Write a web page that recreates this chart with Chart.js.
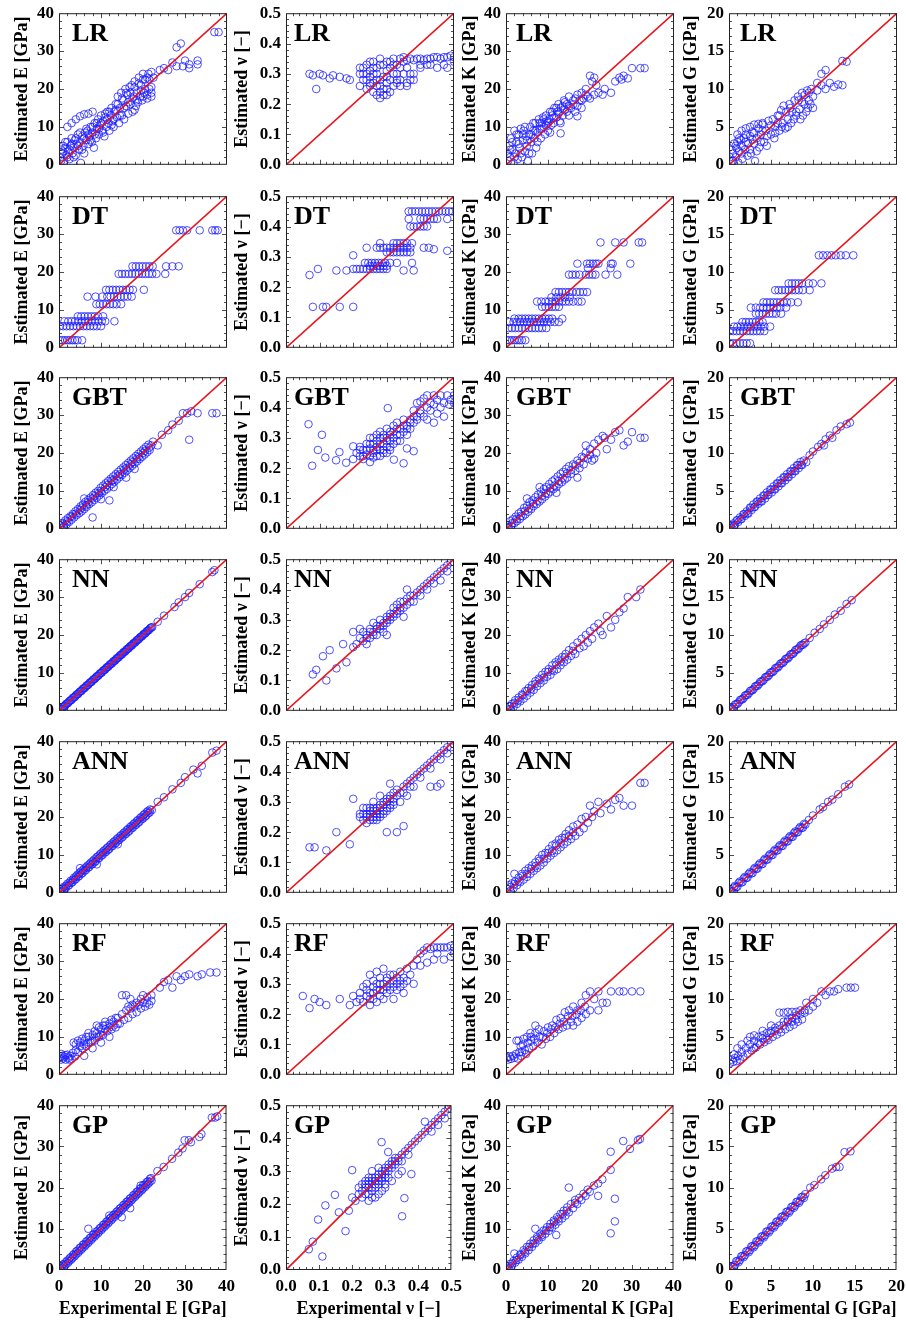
<!DOCTYPE html>
<html>
<head>
<meta charset="utf-8">
<script src="https://cdn.jsdelivr.net/npm/chart.js@4/dist/chart.umd.min.js"></script>
<style>
  body { margin: 0; background: #fff; width: 906px; height: 1325px; position: relative; overflow: hidden; }
  .panel { position: absolute; }
</style>
</head>
<body>
<script>
// ---------------------
// DATA (experimental, estimated)
// ---------------------
const lrE = [[0.3,2],[0.5,4],[0.8,3],[1,5],[1.2,1],[1.5,4.5],[1.8,2.5],[2,6],[2.2,3.5],[2.5,1.5],[2.8,5],[3,7],[3.2,3],[3.5,4.5],[3.8,6.5],[4,2.5],[4.2,5.5],[4.5,8],[4.8,4],[5,6],[5.2,0.5],[5.5,7.5],[5.8,5],[6,3],[6.2,8.5],[6.5,6.5],[6.8,9],[7,5.5],[7.3,7.5],[7.5,10],[7.8,6],[8,8.5],[8.3,4.5],[8.5,11],[8.8,7],[9,9.5],[9.3,12],[9.5,8],[9.8,10.5],[10,13],[10.3,9],[10.5,11.5],[10.8,7.5],[11,12.5],[11.3,10],[11.5,14],[11.8,11],[12,9],[12.3,13],[12.5,15],[12.8,11.5],[13,10],[13.3,14],[13.5,16],[13.8,12.5],[14,18],[14.3,11],[14.5,15],[14.8,19],[15,13],[15.3,17],[15.5,12],[15.8,20],[16,15.5],[16.3,18.5],[16.5,13.5],[16.8,20.5],[17,16],[17.3,21],[17.5,14],[17.8,18],[18,22],[18.3,15.5],[18.5,19],[18.8,16.5],[19,23],[19.3,18],[19.5,21],[19.8,17],[20,24],[20.3,19],[20.5,22.5],[21,18.5],[21.3,24],[21.5,20],[22,19],[22,24.5],[22.5,23],
  [0.5,1],[1,3.5],[1.5,6],[2,2],[2.5,4],[3,5.5],[3.5,2],[4,7],[4.5,5],[5,8.5],[5.5,4],[6,7],[6.5,9.5],[7,8],[7.5,6.5],[8,10],[8.5,8],[9,11],[9.5,9.5],[10,11],[10.5,8.5],[11,13.5],[11.5,12],[12,14],[12.5,10.5],[13,12],[13.5,14.5],[14,16],[14.5,13],[15,17.5],[15.5,15],[16,19],[16.5,16.5],[17,19],[17.5,17.5],[18,20.5],[18.5,17],[19,21.5],[19.5,19.5],[20,22.5],[20.5,20],[21,23],[21.5,22.5],[22,20.5],[20,18],[21,17.5],[22,18],[18,14.5],
  [2,10],[3,11],[4,12],[5,12.8],[6,13.3],[7,13.5],[8,14],
  [24,25],[25,25.5],[26,25],[27,27],[28,26],[28,31],[29,32],[29.5,26],[30,27.5],[31,26.5],[31,25.5],[33,27.5],[33,26.5],[37,35],[38,35]];
const lrV = [[0.07,0.3],[0.08,0.295],[0.09,0.25],[0.1,0.3],[0.11,0.295],[0.13,0.285],[0.14,0.295],[0.16,0.29],[0.18,0.285],[0.19,0.28],
  [0.22,0.32],[0.22,0.26],[0.23,0.3],[0.23,0.28],[0.24,0.33],[0.24,0.25],[0.25,0.31],[0.25,0.27],[0.25,0.29],[0.26,0.34],[0.26,0.24],[0.26,0.32],[0.27,0.28],[0.27,0.3],[0.27,0.23],[0.28,0.26],[0.28,0.33],[0.28,0.35],[0.28,0.22],[0.29,0.29],[0.29,0.25],[0.3,0.31],[0.3,0.27],[0.3,0.23],[0.3,0.34],[0.31,0.28],[0.31,0.32],[0.32,0.26],[0.32,0.35],[0.32,0.3],[0.33,0.33],[0.33,0.28],[0.34,0.35],[0.34,0.26],[0.35,0.3],[0.35,0.34],[0.36,0.32],[0.36,0.27],[0.37,0.28],[0.37,0.35],[0.38,0.3],[0.38,0.345],[0.39,0.35],[0.4,0.33],[0.4,0.35],[0.41,0.345],[0.42,0.35],[0.43,0.33],[0.43,0.35],[0.44,0.355],[0.45,0.32],[0.45,0.355],[0.46,0.35],[0.47,0.355],[0.47,0.33],[0.48,0.355],[0.48,0.32],[0.49,0.36],[0.5,0.355],[0.5,0.34],
  [0.23,0.32],[0.24,0.3],[0.25,0.34],[0.26,0.27],[0.27,0.32],[0.27,0.26],[0.28,0.28],[0.29,0.33],[0.29,0.23],[0.3,0.29],[0.3,0.25],[0.31,0.34],[0.31,0.24],[0.32,0.33],[0.33,0.27],[0.33,0.3],[0.34,0.32],[0.34,0.28],[0.35,0.355],[0.36,0.345],[0.37,0.3],[0.25,0.26],[0.26,0.3],[0.28,0.24],[0.24,0.28],[0.22,0.3],[0.36,0.26],[0.38,0.28],[0.4,0.32],[0.42,0.33]];
const lrK = [[0.3,3],[0.5,1],[0.8,5],[1,2],[1.2,7],[1.5,4],[1.8,0.5],[2,9],[2.2,3],[2.5,6],[2.8,1.5],[3,8],[3.2,4.5],[3.5,9.5],[3.8,2],[4,6.5],[4.2,9],[4.5,3.5],[4.8,7.5],[5,5],[5.2,1],[5.5,8],[5.8,10],[6,6],[6.2,3],[6.5,9],[6.8,7],[7,11],[7.2,4.5],[7.5,8.5],[7.8,12],[8,9.5],[8.3,7],[8.5,11],[8.8,12.5],[9,10],[9.3,8],[9.5,13],[9.8,11.5],[10,9],[10.3,12],[10.5,14],[10.8,10.5],[11,13],[11.3,11],[11.5,15],[12,12.5],[12.3,14],[12.5,16],[12.8,11.5],[13,8.3],[13,15],[13.5,13],[13.8,17],[14,14.5],[14.5,16],[15,13],[15,18],[15.5,15],[16,17],[16.5,14],[17,12.8],[17,18.5],[17.5,17],[18,19],[18,15],[18.5,17.5],[19,20],[19.5,18],[20,23.5],[20,17.5],[21,23],[21,18.5],[21.5,21],[22,19],[23,18.5],[23.5,20],[25,19],[26,22],[27,23],[27.5,22.5],[28,23.5],[30,25.5],[29,22.8],[32,25.5],[33,25.5],[20.5,22],
  [1,4],[1.5,6],[2,2],[2.5,8],[3,5.5],[3.5,3],[4,8],[4.5,10],[5,6.5],[5.5,3],[6,8],[6.5,11],[7,9],[7.5,6],[8,11],[8.5,9.5],[9,12],[9.5,10.5],[10,11],[10.5,8.5],[11,14],[11.5,12.5],[12,15],[12.5,13.5],[13,11],[13.5,15.5],[14,16.5],[14.5,14],[15,15.5],[16,16],[16.5,17.5],[17,15.5],[18,17],[19,18.5]];
const lrG = [[0.1,1],[0.3,2],[0.4,0.5],[0.5,1.5],[0.6,2.8],[0.8,1],[0.9,2.2],[1,3],[1.1,0.3],[1.2,1.8],[1.4,3.3],[1.5,2.5],[1.6,0.8],[1.8,3.5],[1.9,2],[2,4],[2.2,1.2],[2.3,2.8],[2.5,3.8],[2.6,1.5],[2.8,4.3],[3,2.8],[3.1,0.5],[3.3,3.5],[3.5,4.8],[3.6,2.3],[3.8,4],[4,5.3],[4.2,3],[4.4,4.5],[4.5,2.5],[4.7,5.8],[5,4],[5.2,6],[5.4,3.5],[5.5,5],[5.8,6.5],[6,4.5],[6.2,7.2],[6.4,5.5],[6.5,7.8],[6.7,4.8],[7,6],[7.2,8],[7.4,5.5],[7.5,7],[7.8,8.5],[8,6.5],[8.2,9],[8.4,7.3],[8.5,6],[8.7,9.5],[9,8],[9.2,7],[9.3,9.8],[9.5,8.5],[9.8,10],[10,7.5],
  [0.5,0.5],[0.8,2.5],[1.2,3.5],[1.5,1.5],[2,3],[2.5,2],[2.8,3.3],[3,4.2],[3.3,1.8],[3.8,3],[4,4.5],[4.5,3.8],[5,5.2],[5.5,4.2],[5.8,5.5],[6,6.5],[6.3,5],[6.8,7],[7,5],[7.3,7.5],[7.7,6],[8,7],[8.3,8.5],[8.7,8.3],[9,9.2],[9.5,9.5],[9.7,8],[10,9],[8.8,6.5],[9.4,7.5],
  [1,4],[1.5,4.5],[2,4.8],[2.5,5],[3,5.3],[3.5,5.4],[4,5.5],
  [10.5,10.8],[11,10.5],[11.5,10],[12,10.8],[12.5,10.3],[13,10.6],[13.5,10.5],[11,12],[11.5,12.5],[13.5,13.7],[14,13.6],[10.5,9.8]];

const dtE = [[0.2,2],[0.8,2],[1.4,2],[2,2],[2.6,2],[3.2,2],[3.8,2],[4.4,2],[5.5,2],
  [0.2,5.7],[1,5.7],[1.8,5.7],[2.6,5.7],[3.4,5.7],[4.2,5.7],[5,5.7],[5.8,5.7],[6.6,5.7],[7.4,5.7],[8.2,5.7],[9,5.7],[10,5.7],
  [1.3,7],[2.2,7],[3,7],[3.8,7],[4.6,7],[5.4,7],[6.2,7],[7,7],[7.8,7],[8.6,7],[9.4,7],[10.2,7],[11,7],[13.2,7],
  [4.5,8.3],[5.3,8.3],[6.1,8.3],[6.9,8.3],[7.7,8.3],[8.5,8.3],[9.3,8.3],[10.5,8.3],
  [8.9,11.5],[9.7,11.5],[10.5,11.5],[11.3,11.5],[12.1,11.5],[12.9,11.5],[13.7,11.5],[14.8,11.5],
  [6.8,13.5],[8.7,13.5],[10.3,13.5],[11.5,13.5],[12.3,13.5],[13.1,13.5],[13.9,13.5],[14.7,13.5],[15.5,13.5],[16.3,13.5],[17.3,13.5],
  [11.2,15.3],[12,15.3],[12.8,15.3],[13.6,15.3],[14.4,15.3],[15.2,15.3],[16,15.3],[16.8,15.3],[17.6,15.3],[20.2,15.3],
  [14.2,19.5],[15,19.5],[15.8,19.5],[16.6,19.5],[17.4,19.5],[18.2,19.5],[19,19.5],[19.8,19.5],[20.6,19.5],[21.4,19.5],[22.2,19.5],[23.2,19.5],[25.3,19.5],
  [17.5,21.5],[18.3,21.5],[19.1,21.5],[19.9,21.5],[20.7,21.5],[21.5,21.5],[22.3,21.5],[25.5,21.5],[27,21.5],[28.5,21.5],
  [27.9,31],[28.7,31],[29.5,31],[30.5,31],[33.5,31],[36.5,31],[37.2,31],[37.8,31]];
const dtV = [[0.365,0.45],[0.375,0.45],[0.385,0.45],[0.395,0.45],[0.405,0.45],[0.415,0.45],[0.425,0.45],[0.435,0.45],[0.445,0.45],[0.455,0.45],[0.465,0.45],[0.475,0.45],[0.485,0.45],[0.495,0.45],
  [0.365,0.425],[0.4,0.425],[0.41,0.425],[0.42,0.425],[0.43,0.425],[0.44,0.425],[0.45,0.425],[0.48,0.425],
  [0.37,0.4],[0.38,0.4],[0.39,0.4],[0.4,0.4],[0.41,0.4],[0.42,0.4],
  [0.28,0.345],[0.32,0.345],[0.33,0.345],[0.34,0.345],[0.35,0.345],[0.36,0.345],[0.375,0.345],
  [0.24,0.33],[0.27,0.33],[0.28,0.33],[0.29,0.33],[0.3,0.33],[0.31,0.33],[0.32,0.33],[0.33,0.33],[0.34,0.33],[0.35,0.33],[0.36,0.33],[0.37,0.33],[0.41,0.33],[0.425,0.33],[0.44,0.325],[0.48,0.32],
  [0.3,0.315],[0.31,0.315],[0.32,0.315],[0.33,0.315],[0.34,0.315],[0.35,0.315],[0.36,0.315],[0.37,0.315],
  [0.2,0.305],
  [0.235,0.28],[0.245,0.28],[0.255,0.28],[0.265,0.28],[0.275,0.28],[0.285,0.28],[0.295,0.28],[0.31,0.28],[0.33,0.28],[0.375,0.28],
  [0.25,0.27],[0.26,0.27],[0.27,0.27],[0.28,0.27],[0.29,0.27],[0.3,0.27],
  [0.095,0.26],[0.15,0.255],[0.18,0.255],[0.2,0.26],[0.21,0.26],[0.22,0.26],[0.23,0.26],[0.24,0.26],[0.25,0.26],[0.26,0.26],[0.27,0.26],[0.28,0.26],[0.29,0.26],[0.3,0.26],[0.35,0.255],[0.38,0.255],
  [0.07,0.24],
  [0.08,0.135],[0.11,0.135],[0.12,0.135],[0.16,0.135],[0.2,0.135]];
const dtK = [[0.2,2],[0.8,2],[1.4,2],[2,2],[2.6,2],[3.2,2],[3.8,2],[4.6,2],
  [0.6,5.2],[1.4,5.2],[2.2,5.2],[3,5.2],[3.8,5.2],[4.6,5.2],[5.4,5.2],[6.2,5.2],[7,5.2],[7.8,5.2],[8.6,5.2],[9.6,5.2],
  [0.8,6.8],[1.8,6.8],[2.6,6.8],[3.4,6.8],[4.2,6.8],[5,6.8],[5.8,6.8],[6.6,6.8],[7.4,6.8],[8.2,6.8],[9,6.8],[9.8,6.8],[10.6,6.8],[11.6,6.8],[12.6,6.8],
  [2,7.7],[3,7.7],[3.8,7.7],[4.6,7.7],[5.4,7.7],[6.2,7.7],[7,7.7],[7.8,7.7],[8.6,7.7],[9.4,7.7],[10.2,7.7],[11,7.7],[13.4,7.7],
  [8.6,10.8],[9.4,10.8],[10.2,10.8],[11,10.8],[11.8,10.8],[12.6,10.8],
  [7.4,12.2],[8.4,12.2],[9.4,12.2],[10.2,12.2],[11,12.2],[11.8,12.2],[12.6,12.2],[13.4,12.2],[14.2,12.2],[15,12.2],[16,12.2],[17.2,12.2],[18,12.2],
  [10.8,13.3],[12,13.3],[13,13.3],[14,13.3],[15.2,13.3],
  [11.8,14.7],[12.6,14.7],[13.4,14.7],[14.2,14.7],[15,14.7],[15.8,14.7],[16.8,14.7],[17.6,14.7],[18.4,14.7],[19.3,14.7],
  [15,19.3],[15.8,19.3],[16.6,19.3],[17.5,19.3],[19,19.3],[19.8,19.3],[20.6,19.3],[21.3,19.3],[23.7,19.3],[26.5,19.3],
  [19.5,21],[24.9,21],
  [17,22.2],[19.3,22.2],[20,22.2],[20.7,22.2],[21.4,22.2],[22,22.2],[25,22.2],[25.4,22.2],[29.6,22.2],
  [22.5,27.8],[26,27.8],[28,27.8],[31.6,27.8],[32.4,27.8]];
const dtG = [[0.1,0.6],[0.5,0.6],[0.9,0.6],[1.3,0.6],[1.7,0.6],[2.1,0.6],[2.5,0.6],
  [0.1,2.2],[0.5,2.2],[0.9,2.2],[1.3,2.2],[1.7,2.2],[2.1,2.2],[2.5,2.2],[2.9,2.2],[3.3,2.2],[3.7,2.2],[4.2,2.2],
  [0.6,2.8],[1,2.8],[1.4,2.8],[1.8,2.8],[2.2,2.8],[2.6,2.8],[3,2.8],[3.4,2.8],[3.8,2.8],[4.2,2.8],[4.9,2.8],
  [1.6,3.4],[2,3.4],[2.4,3.4],[2.8,3.4],[3.2,3.4],[3.6,3.4],[4,3.4],
  [3.2,4.5],[3.6,4.5],[4,4.5],[4.4,4.5],[4.8,4.5],[5.2,4.5],[5.6,4.5],[6.2,4.5],
  [2.6,5.3],[3.2,5.3],[3.7,5.3],[4.1,5.3],[4.5,5.3],[4.9,5.3],[5.3,5.3],[5.7,5.3],[6.1,5.3],[6.8,5.3],
  [4.1,6],[4.5,6],[4.9,6],[5.3,6],[5.7,6],[6.1,6],[6.5,6],[6.9,6],[7.4,6],[8.2,6],
  [5.5,7.6],[5.9,7.6],[6.3,7.6],[6.7,7.6],[7.1,7.6],[7.5,7.6],[7.9,7.6],[8.3,7.6],[8.8,7.6],[9.6,7.6],
  [7.1,8.5],[7.5,8.5],[7.9,8.5],[8.3,8.5],[8.7,8.5],[9.5,8.5],[10,8.5],[11,8.5],
  [10.7,12.2],[11.2,12.2],[11.7,12.2],[12.2,12.2],[12.7,12.2],[13.3,12.2],[13.9,12.2],[14.8,12.2]];

const gbtE = [[0.3,0.8],[0.6,0.2],[0.9,1.5],[1.2,0.8],[1.5,2.2],[1.8,1.2],[2.1,2.8],[2.4,1.8],[2.7,3.3],[3,2.4],[3.3,3.9],[3.6,3],[3.9,4.6],[4.2,3.6],[4.5,5.2],[4.8,4.1],[5.1,5.9],[5.4,4.6],[5.7,6.4],[6,5.2],[6.3,7.1],[6.6,5.8],[6.9,7.6],[7.2,6.5],[7.5,8.2],[7.8,7],[8,3],[8.1,8.9],[8.4,7.6],[8.7,9.5],[9,8.2],[9.3,10],[9.6,8.8],[9.9,10.8],[10.2,9.4],[10.5,11.4],[10.8,10],[11.1,12],[11.4,10.5],[11.7,12.6],[12,11.2],[12,7.5],[12.3,13.2],[12.6,11.8],[12.9,13.8],[13.2,12.4],[13.5,14.4],[13.8,13],[14.1,15],[14.4,13.6],[14.7,15.6],[15,14.2],[15.3,16.2],[15.6,14.8],[15.9,16.8],[16.2,15.4],[16.5,17.4],[16.8,16],[17.1,18],[17.4,16.6],[17.7,18.6],[18,17.2],[18.3,19.2],[18.6,17.8],[18.9,19.8],[19.2,18.4],[19.5,20.4],[19.8,19],[20.1,21],[20.4,19.6],[20.7,21.6],[21,20.2],[21.3,22.2],[21.6,20.8],[22,22],[22.4,23],[23.5,22],
  [0.5,1.4],[1,0.4],[2,2],[3,3.2],[4,4],[5,5],[5.5,5.6],[6.5,6.2],[7,7],[8,8],[8.5,8.6],[9.5,9.4],[10,10],[11,11],[11.5,11.6],[12.5,12.6],[13,13],[14,14],[14.5,14.4],[15.5,15.6],[16,16],[17,17],[17.5,17.6],[18.5,18.4],[19,19],[20,20],[20.5,20.6],[21.5,21.4],[13,11],[16,13.5],[18,15.8],[10,7.8],[6,8],
  [24.5,24.8],[26,26],[27,27.5],[28.5,28.5],[29.5,30.5],[30.5,30.5],[31,23.5],[33,30.5],[36.5,30.5],[37.5,30.5],[31.5,31]];
const gbtV = [[0.067,0.345],[0.078,0.208],[0.107,0.31],[0.095,0.26],[0.117,0.235],[0.149,0.226],[0.159,0.253],[0.179,0.218],[0.2,0.23],[0.2,0.272],[0.303,0.398],[0.321,0.228],[0.35,0.216],[0.36,0.265],[0.38,0.256],
  [0.21,0.25],[0.22,0.24],[0.22,0.27],[0.23,0.23],[0.23,0.26],[0.24,0.28],[0.24,0.245],[0.25,0.22],[0.25,0.265],[0.25,0.3],[0.26,0.25],[0.26,0.28],[0.26,0.235],[0.27,0.27],[0.27,0.29],[0.27,0.24],[0.28,0.26],[0.28,0.3],[0.28,0.32],[0.29,0.25],[0.29,0.28],[0.29,0.31],[0.3,0.27],[0.3,0.3],[0.3,0.33],[0.31,0.26],[0.31,0.29],[0.31,0.32],[0.32,0.3],[0.32,0.34],[0.32,0.28],[0.33,0.31],[0.33,0.35],[0.34,0.33],[0.34,0.29],[0.35,0.32],[0.35,0.36],[0.36,0.34],[0.36,0.31],[0.37,0.36],[0.37,0.33],[0.38,0.35],[0.38,0.39],[0.39,0.37],[0.4,0.39],[0.41,0.37],[0.42,0.36],[0.43,0.39],[0.45,0.38],[0.44,0.35],[0.46,0.4],[0.47,0.37],
  [0.24,0.26],[0.25,0.24],[0.26,0.26],[0.26,0.3],[0.27,0.26],[0.27,0.31],[0.28,0.28],[0.28,0.24],[0.29,0.3],[0.29,0.26],[0.3,0.29],[0.3,0.25],[0.31,0.31],[0.31,0.27],[0.32,0.32],[0.33,0.29],[0.33,0.33],[0.34,0.31],[0.35,0.34],[0.36,0.33],[0.37,0.35],[0.38,0.37],[0.39,0.36],[0.4,0.38],[0.42,0.4],[0.44,0.41],[0.23,0.24],[0.22,0.26],[0.25,0.28],
  [0.39,0.415],[0.4,0.42],[0.41,0.43],[0.42,0.44],[0.43,0.415],[0.44,0.44],[0.45,0.425],[0.46,0.44],[0.47,0.415],[0.48,0.44],[0.49,0.425],[0.5,0.44],[0.5,0.415],[0.485,0.41]];
const gbtK = [[0.3,1],[0.7,0.3],[1,2],[1.3,0.8],[1.6,2.5],[2,1.5],[2.3,3.2],[2.6,2],[3,4],[3.3,2.6],[3.6,4.5],[4,3.3],[4.3,5.5],[4.6,3.8],[5,6],[5.3,4.5],[5.6,7],[6,5.2],[6.3,7.5],[6.6,6],[7,8.3],[7.3,6.5],[7.6,9],[8,7.2],[8.3,9.8],[8.6,7.8],[9,10.5],[9.3,8.5],[9.6,11],[10,9.2],[10.3,11.8],[10.6,9.8],[11,12.5],[11.3,10.5],[11.6,13],[12,11],[12.3,13.8],[12.6,11.8],[13,14.5],[13.3,12.3],[13.6,15],[14,13],[14.3,15.8],[14.6,13.5],[15,16.5],[15.5,14.5],[16,17],[16.5,15.3],[17,18],[17.5,16],[18,19],[18.5,17],[19,20],[19.5,18.5],[20,21],[20.5,18],[21,22.5],[21.5,20],[22,23.5],[23,24.5],[23.5,24],[24,21],[25,23.5],[26,25.5],[27,26],[28,22],[29,23],[30,25.5],[32,24],[33,24],
  [0.5,0.5],[1.5,1.5],[2.5,2.6],[3.5,3.4],[4.5,4.7],[5.5,5.4],[6.5,6.6],[7.5,7.4],[8.5,8.7],[9.5,9.4],[10.5,10.7],[11.5,11.4],[12.5,12.6],[13.5,13.4],[14.5,14.6],[15.5,15.5],[16.5,16.7],[17.5,17.4],[18.5,18.7],[20,19.5],[5,8],[8,11],[12,9.5],[17,13.5],[21,18.5],[19,22]];
const gbtG = [[0.1,0.3],[0.3,0.1],[0.5,0.7],[0.7,0.5],[0.9,1.1],[1.1,0.9],[1.3,1.5],[1.5,1.3],[1.7,1.9],[1.9,1.7],[2.1,2.3],[2.3,2],[2.5,2.8],[2.7,2.5],[2.9,3.2],[3.1,2.9],[3.3,3.6],[3.5,3.3],[3.7,4],[3.9,3.6],[4.1,4.4],[4.3,4],[4.5,4.8],[4.7,4.5],[4.9,5.2],[5.1,4.8],[5.3,5.6],[5.5,5.2],[5.7,6],[5.9,5.6],[6.1,6.4],[6.3,6],[6.5,6.8],[6.7,6.4],[6.9,7.2],[7.1,6.8],[7.3,7.6],[7.5,7.2],[7.7,8],[7.9,7.6],[8.1,8.4],[8.3,8],[8.5,8.8],[8.7,8.4],[8.9,9],[9.2,8.8],
  [0.2,0.35],[0.6,0.45],[1,1.15],[1.4,1.25],[1.8,1.95],[2.2,2.05],[2.6,2.75],[3,2.85],[3.4,3.55],[3.8,3.65],[4.2,4.35],[4.6,4.45],[5,5.15],[5.4,5.25],[5.8,5.95],[6.2,6.05],[6.6,6.75],[7,6.85],[7.4,7.55],[7.8,7.65],[8.2,8.35],[8.6,8.45],
  [9.6,9.7],[10,10.2],[10.6,10.8],[11,11.2],[11.5,11.8],[12,12.3],[12.3,12],[12.8,13],[13.3,13.5],[14,13.8],[14.4,14],[11.3,11]];

const nnE = [[0.2,0.2],[0.6,0.5],[1,1.1],[1.4,1.3],[1.8,1.9],[2.2,2.1],[2.6,2.7],[3,2.9],[3.4,3.5],[3.8,3.7],[4.2,4.3],[4.6,4.5],[5,5.1],[5.4,5.3],[5.8,5.9],[6.2,6.1],[6.6,6.7],[7,6.9],[7.4,7.5],[7.8,7.7],[8.2,8.3],[8.6,8.5],[9,9.1],[9.4,9.3],[9.8,9.9],[10.2,10.1],[10.6,10.7],[11,10.9],[11.4,11.5],[11.8,11.7],[12.2,12.3],[12.6,12.5],[13,13.1],[13.4,13.3],[13.8,13.9],[14.2,14.1],[14.6,14.7],[15,14.9],[15.4,15.5],[15.8,15.7],[16.2,16.3],[16.6,16.5],[17,17.1],[17.4,17.3],[17.8,17.9],[18.2,18.1],[18.6,18.7],[19,18.9],[19.4,19.5],[19.8,19.7],[20.2,20.3],[20.6,20.5],[21,21.1],[21.4,21.3],[21.8,21.9],[22.2,22.1],
  [0.4,0.45],[0.8,0.85],[1.2,1.15],[1.6,1.65],[2,1.95],[2.4,2.45],[2.8,2.75],[3.2,3.25],[3.6,3.55],[4,4.05],[4.4,4.35],[4.8,4.85],[5.2,5.15],[5.6,5.65],[6,5.95],[6.4,6.45],[6.8,6.75],[7.2,7.25],[7.6,7.55],[8,8.05],[8.4,8.35],[8.8,8.85],[9.2,9.15],[9.6,9.65],[10,9.95],[10.4,10.45],[10.8,10.75],[11.2,11.25],[11.6,11.55],[12,12.05],[12.4,12.35],[12.8,12.85],[13.2,13.15],[13.6,13.65],[14,13.95],[14.4,14.45],[14.8,14.75],[15.2,15.25],[15.6,15.55],[16,16.05],[16.4,16.35],[16.8,16.85],[17.2,17.15],[17.6,17.65],[18,17.95],[18.4,18.45],[18.8,18.75],[19.2,19.25],[19.6,19.55],[20,20.05],[20.4,20.35],[20.8,20.85],[21.2,21.15],[21.6,21.65],[22,21.95],
  [23.5,23.5],[25,25.1],[27.5,27.4],[28.5,28.6],[30,30],[31,31.1],[33.5,33.4],[36.5,36.6],[37,37.1]];
const nnV = [[0.08,0.12],[0.09,0.135],[0.12,0.1],[0.11,0.18],[0.13,0.2],[0.15,0.14],[0.17,0.22],[0.18,0.16],[0.2,0.21],[0.2,0.26],
  [0.21,0.22],[0.22,0.24],[0.23,0.23],[0.23,0.26],[0.24,0.25],[0.24,0.22],[0.25,0.27],[0.25,0.24],[0.26,0.26],[0.26,0.29],[0.27,0.25],[0.27,0.28],[0.28,0.27],[0.28,0.3],[0.29,0.28],[0.29,0.26],[0.3,0.31],[0.3,0.29],[0.31,0.3],[0.31,0.32],[0.32,0.31],[0.32,0.34],[0.33,0.32],[0.33,0.35],[0.34,0.33],[0.34,0.36],[0.35,0.34],[0.35,0.36],[0.36,0.35],[0.36,0.37],[0.37,0.36],[0.38,0.38],[0.38,0.36],[0.39,0.39],[0.4,0.4],[0.4,0.38],[0.41,0.41],[0.42,0.42],[0.42,0.4],[0.43,0.43],[0.44,0.44],[0.44,0.42],[0.45,0.45],[0.46,0.46],[0.46,0.43],[0.47,0.47],[0.48,0.48],[0.48,0.46],[0.49,0.49],[0.5,0.49],[0.35,0.31],[0.36,0.4],[0.3,0.25],[0.22,0.27],
  [0.24,0.24],[0.25,0.26],[0.26,0.25],[0.27,0.27],[0.28,0.28],[0.29,0.29],[0.3,0.3],[0.31,0.31],[0.32,0.32],[0.33,0.33],[0.34,0.34],[0.37,0.38]];
const nnK = [[0.3,0.5],[0.7,1.2],[1,0.4],[1.4,1.8],[1.8,1],[2.2,2.8],[2.6,1.8],[3,3.5],[3.4,2.5],[3.8,4.3],[4.2,3.2],[4.6,5.2],[5,4],[5.4,6],[5.8,4.8],[6.2,6.8],[6.6,5.5],[7,7.8],[7.4,6.5],[7.8,8.5],[8.2,7.3],[8.6,9.5],[9,8],[9.4,10.3],[9.8,9],[10.2,11],[10.6,9.5],[11,12],[11.4,10.5],[11.8,12.8],[12.2,11],[12.6,13.5],[13,12],[13.4,14.2],[13.8,12.8],[14.2,15],[14.6,13.5],[15,16],[15.5,14.5],[16,17],[16.5,15],[17,18],[17.5,16.5],[18,19],[18.5,17],[19,20],[19.5,18],[20,21],[20.5,19],[21,22],[22,23],[22.5,21],[23,20],[24,25],[25,22],[26,24],[27,26],[28,27],[29,30],[31,30],[32,32],
  [1,1.2],[2,2.1],[3,2.8],[4,4.1],[5,5.2],[6,5.8],[7,7.1],[8,8.2],[9,8.8],[10,10.2],[11,10.8],[12,12.2],[13,13],[14,14.1],[16,15.8]];
const nnG = [[0.1,0.2],[0.4,0.3],[0.7,0.8],[1,0.9],[1.3,1.4],[1.6,1.5],[1.9,2],[2.2,2.1],[2.5,2.6],[2.8,2.7],[3.1,3.2],[3.4,3.3],[3.7,3.8],[4,3.9],[4.3,4.4],[4.6,4.5],[4.9,5],[5.2,5.1],[5.5,5.6],[5.8,5.7],[6.1,6.2],[6.4,6.3],[6.7,6.8],[7,6.9],[7.3,7.4],[7.6,7.5],[7.9,8],[8.2,8.1],[8.5,8.6],[8.8,8.7],[9.1,9],
  [0.25,0.3],[0.55,0.5],[0.85,0.9],[1.15,1.1],[1.45,1.5],[1.75,1.7],[2.05,2.1],[2.35,2.3],[2.65,2.7],[2.95,2.9],[3.25,3.3],[3.55,3.5],[3.85,3.9],[4.15,4.1],[4.45,4.5],[4.75,4.7],[5.05,5.1],[5.35,5.3],[5.65,5.7],[5.95,5.9],[6.25,6.3],[6.55,6.5],[6.85,6.9],[7.15,7.1],[7.45,7.5],[7.75,7.7],[8.05,8.1],[8.35,8.3],[8.65,8.7],[8.95,8.9],
  [9.6,9.6],[10.2,10.3],[10.8,10.8],[11.3,11.4],[12,12],[12.6,12.7],[13.3,13.2],[14,14.1],[14.6,14.6]];

const annE = [[0.2,0.4],[0.5,0.2],[0.9,1.2],[1.3,1],[1.7,1.9],[2.1,1.8],[2.5,2.7],[2.9,2.6],[3.3,3.5],[3.7,3.4],[4.1,4.4],[4.5,4.2],[4.9,5.2],[5.3,5],[5.7,6],[6.1,5.8],[6.5,6.8],[6.9,6.6],[7.3,7.6],[7.7,7.4],[8.1,8.4],[8.5,8.1],[8.9,9.3],[9.3,9],[9.7,10.1],[10.1,9.8],[10.5,10.9],[10.9,10.6],[11.3,11.7],[11.7,11.3],[12.1,12.5],[12.5,12.2],[12.9,13.3],[13.3,13],[13.7,14.1],[14.1,13.8],[14.5,14.9],[14.9,14.5],[15.3,15.7],[15.7,15.4],[16.1,16.5],[16.5,16.1],[16.9,17.3],[17.3,17],[17.7,18.1],[18.1,17.8],[18.5,18.9],[18.9,18.5],[19.3,19.7],[19.7,19.4],[20.1,20.5],[20.5,20.1],[20.9,21.3],[21.3,21],[21.7,22],[22.1,21.8],[9,7.5],[14,12.8],[5,6.5],
  [0.4,0.9],[0.8,0.4],[1.2,1.6],[1.6,1.2],[2,2.4],[2.4,2],[2.8,3.2],[3.2,2.8],[3.6,4],[4,3.6],[4.4,4.8],[4.8,4.4],[5.2,5.6],[5.6,5.2],[6,6.4],[6.4,6],[6.8,7.2],[7.2,6.8],[7.6,8],[8,7.6],[8.4,8.8],[8.8,8.4],[9.2,9.6],[9.6,9.2],[10,10.4],[10.4,10],[10.8,11.2],[11.2,10.8],[11.6,12],[12,11.6],[12.4,12.8],[12.8,12.4],[13.2,13.6],[13.6,13.2],[14,14.4],[14.4,14],[14.8,15.2],[15.2,14.8],[15.6,16],[16,15.6],[16.4,16.8],[16.8,16.4],[17.2,17.6],[17.6,17.2],[18,18.4],[18.4,18],[18.8,19.2],[19.2,18.8],[19.6,20],[20,19.6],[20.4,20.8],[20.8,20.4],[21.2,21.6],[21.6,21.2],
  [23.5,24],[25,25.2],[27,27.3],[29,29],[30,30.5],[32,32.5],[34,33.5],[36.5,37],[37.5,37.5],[33,31.5]];
const annV = [[0.07,0.15],[0.085,0.15],[0.12,0.14],[0.15,0.2],[0.19,0.16],[0.2,0.31],[0.22,0.25],[0.3,0.2],[0.33,0.2],[0.35,0.22],[0.32,0.29],[0.43,0.35],[0.45,0.35],[0.46,0.36],[0.38,0.35],[0.28,0.32],[0.31,0.36],
  [0.22,0.26],[0.23,0.24],[0.23,0.28],[0.24,0.26],[0.24,0.23],[0.25,0.25],[0.25,0.28],[0.26,0.24],[0.26,0.27],[0.26,0.3],[0.27,0.25],[0.27,0.28],[0.28,0.26],[0.28,0.29],[0.29,0.27],[0.29,0.3],[0.3,0.28],[0.3,0.31],[0.31,0.29],[0.31,0.32],[0.32,0.31],[0.32,0.33],[0.33,0.32],[0.33,0.34],[0.34,0.33],[0.35,0.35],[0.35,0.33],[0.36,0.36],[0.37,0.37],[0.37,0.35],[0.38,0.38],[0.39,0.39],[0.4,0.4],[0.4,0.38],[0.41,0.41],[0.42,0.42],[0.43,0.43],[0.43,0.41],[0.44,0.44],[0.45,0.45],[0.46,0.46],[0.46,0.44],[0.47,0.47],[0.48,0.48],[0.49,0.48],[0.5,0.49],[0.48,0.46],[0.34,0.3],[0.36,0.32],
  [0.23,0.26],[0.24,0.25],[0.24,0.28],[0.25,0.26],[0.25,0.24],[0.26,0.25],[0.26,0.28],[0.27,0.27],[0.27,0.24],[0.28,0.25],[0.28,0.28],[0.29,0.26],[0.29,0.29],[0.3,0.27],[0.3,0.3],[0.31,0.28],[0.31,0.31],[0.32,0.3],[0.25,0.27],[0.27,0.26]];
const annK = [[0.3,1],[0.7,2],[1,0.5],[1.4,2.5],[1.8,1.2],[2,5],[2.2,3],[2.6,2],[3,4],[3.4,2.8],[3.8,5],[4.2,3.5],[4.6,5.8],[5,4.2],[5.4,6.5],[5.8,5],[6.2,7.2],[6.6,5.8],[7,8],[7.4,6.5],[7.8,9],[8.2,7.2],[8.6,10],[9,8],[9.4,10.5],[9.8,9],[10.2,11.5],[10.6,9.8],[11,12.5],[11.4,10.5],[11.8,13],[12.2,11.2],[12.6,14],[13,12],[13.4,14.5],[13.8,12.8],[14.2,15.5],[14.6,13.5],[15,16.5],[15.5,14.2],[16,17.5],[16.5,15],[17,18],[17.5,16],[18,19.5],[18.5,17],[19,20],[19.5,18.5],[20,23],[20.5,20],[21,21.5],[22,24],[22.5,21],[24,23.5],[25,22],[26,24.5],[27,25],[28,23],[30,23],[32,29],[33,29],
  [1,1.5],[2,2.3],[3,3],[4,4.5],[5,5],[6,6.3],[7,7],[8,8.5],[9,9],[10,10.5],[11,11],[12,12.5],[13,13.2],[14,14.5],[15,15],[16,16]];
const annG = [[0.1,0.3],[0.4,0.2],[0.7,0.9],[1,0.8],[1.3,1.5],[1.6,1.4],[1.9,2.1],[2.2,2],[2.5,2.7],[2.8,2.6],[3.1,3.3],[3.4,3.2],[3.7,3.9],[4,3.8],[4.3,4.5],[4.6,4.4],[4.9,5.1],[5.2,5],[5.5,5.7],[5.8,5.6],[6.1,6.3],[6.4,6.2],[6.7,6.9],[7,6.8],[7.3,7.5],[7.6,7.4],[7.9,8.1],[8.2,8],[8.5,8.7],[8.8,8.6],[9.1,9],
  [0.25,0.15],[0.55,0.7],[0.85,0.75],[1.15,1.3],[1.45,1.35],[1.75,1.9],[2.05,1.95],[2.35,2.5],[2.65,2.55],[2.95,3.1],[3.25,3.15],[3.55,3.7],[3.85,3.75],[4.15,4.3],[4.45,4.35],[4.75,4.9],[5.05,4.95],[5.35,5.5],[5.65,5.55],[5.95,6.1],[6.25,6.15],[6.55,6.7],[6.85,6.75],[7.15,7.3],[7.45,7.35],[7.75,7.9],[8.05,7.95],[8.35,8.5],[8.65,8.55],[8.95,9.1],
  [9.5,9.6],[10,10.2],[10.8,11],[11.2,11.3],[11.8,12],[12.3,12.3],[13,13],[13.8,14],[14.3,14.3]];

const rfE = [[0.2,4.5],[0.5,4],[0.8,5],[1,4.3],[1.3,4.8],[1.6,4],[2,5.3],[2.3,4.5],[2.7,5],[3,4.2],[3.3,5.8],
  [3.5,8.5],[4,8],[4.5,6],[5,8.5],[5.5,7],[6,9],[6.5,7.5],[7,10],[7.5,8.5],[8,10.5],[8.5,9],[9,11],[9.5,10],[10,12],[10.5,10.5],[11,13],[11.5,11.5],[12,13.5],[12.5,12],[13,14],[13.5,12.5],[14,15],[14.5,13.5],[15,21],[15,16],[15.5,14.5],[16,21],[16,17],[16.5,15],[17,20],[17,17.5],[17.5,16],[18,18],[18.5,16.5],[19,18.5],[19.5,17.5],[20,21],[20,19],[20.5,18],[21,19],[21.5,18.5],[22,21],[22,19.5],[6,5],[8,7],[10,8.5],[12,10],[7,11],[9,13],[11,14],
  [4,6.5],[5,7.5],[6,8],[7,8.5],[8,9],[9,10],[10,10.5],[11,12],[12,12.5],[13,13],[14,13.5],[4.5,9],[5.5,9.5],[6.5,10],[8.5,11.5],[9.5,12.5],[10.5,13],[12.5,14.5],[13.5,15],[16.5,18],[17.5,18.5],[18.5,19],[19.5,20],[21,20.5],[0.5,5.5],[1.5,5.2],[2.5,4],[3.8,4.8],
  [24,23],[25,24.5],[26,25],[27,23],[28,26],[30,26],[31,26.5],[33,26],[34,26.5],[36,27],[37.5,27],[29,25]];
const rfV = [[0.05,0.26],[0.07,0.22],[0.085,0.25],[0.1,0.24],[0.12,0.23],[0.16,0.25],[0.19,0.23],[0.2,0.26],
  [0.21,0.24],[0.22,0.27],[0.22,0.25],[0.23,0.29],[0.23,0.24],[0.24,0.26],[0.24,0.3],[0.25,0.23],[0.25,0.27],[0.25,0.33],[0.26,0.25],[0.26,0.29],[0.26,0.31],[0.27,0.24],[0.27,0.28],[0.27,0.34],[0.28,0.26],[0.28,0.3],[0.28,0.32],[0.29,0.28],[0.29,0.25],[0.29,0.35],[0.3,0.29],[0.3,0.31],[0.3,0.27],[0.31,0.3],[0.31,0.33],[0.32,0.29],[0.32,0.31],[0.32,0.25],[0.33,0.32],[0.33,0.28],[0.34,0.31],[0.34,0.34],[0.35,0.32],[0.35,0.27],[0.36,0.31],[0.36,0.35],[0.37,0.33],[0.38,0.36],[0.38,0.3],[0.39,0.38],[0.4,0.36],[0.4,0.4],
  [0.24,0.28],[0.25,0.25],[0.26,0.27],[0.27,0.3],[0.28,0.28],[0.29,0.3],[0.3,0.32],[0.31,0.28],[0.32,0.33],[0.33,0.3],[0.34,0.29],[0.35,0.3],
  [0.41,0.41],[0.42,0.42],[0.43,0.415],[0.44,0.42],[0.45,0.42],[0.46,0.42],[0.47,0.42],[0.48,0.42],[0.49,0.425],[0.5,0.42],[0.42,0.37],[0.44,0.38],[0.47,0.38],[0.49,0.39],[0.45,0.4],[0.5,0.4]];
const rfK = [[0.2,4.5],[0.5,4],[0.9,4.8],[1.2,4.2],[1.6,5],[2,4.5],[2.4,5.5],[2.8,4.3],[3,9],[3.2,6],
  [3.5,5],[4,8],[4.5,6.5],[5,10],[5.5,7],[6,9],[6.5,7.5],[7,11],[7.5,8.5],[8,10],[8.5,8],[9,11.5],[9.5,9.5],[10,12.5],[10.5,10],[11,13],[11.5,11],[12,14.5],[12.5,12],[13,15],[13.5,12.5],[14,16.5],[14.5,13],[15,17],[15.5,14],[16,18],[16,13],[17,17],[17,14],[18,19],[18,15],[19,21],[19,16],[20,22],[20,17],[21,20],[22,22],[22,17],[23,19],[24,19],[25,22],[27,22],[28,22],[30,22],[32,22],[6,10],[7,13],
  [3.8,6],[4.2,9.5],[5.2,8.5],[5.8,11],[6.8,9.5],[7.8,12],[8.8,10],[9.8,11],[10.8,12],[11.8,12.5],[12.8,13.5],[13.8,14],[14.8,15.5],[15.8,15.5],[16.8,16],[17.8,17],[18.8,18],[3.5,7.5],[4.8,5.5],[2.5,9]];
const rfG = [[0.1,1.5],[0.3,2],[0.5,1.7],[0.7,2.2],[0.9,1.8],[1.1,2.5],[1.3,2],[1.5,3],[1.7,2.4],
  [2,3.5],[2.2,2.8],[2.5,4],[2.7,3.2],[3,4.5],[3.2,3.6],[3.5,5],[3.7,4],[4,5.2],[4.2,4.3],[4.5,5.5],[4.7,4.6],[5,5.8],[5.2,5],[5.5,6.2],[5.7,5.3],[6,8.2],[6,6.5],[6.2,5.6],[6.5,7],[6.7,6],[7,8.3],[7,7.2],[7.2,6.3],[7.5,7.5],[7.7,6.6],[8,7.8],[8.2,7],[8.5,8],[8.7,7.3],[9,8.2],[9.2,9.5],[1.5,4],[2.5,5],
  [2.2,4.5],[3,3.5],[3.5,4.2],[4,4.8],[4.5,4.8],[5,5.5],[5.5,5.8],[6,6],[6.5,6.5],[7,7],[7.5,7],[8,7.3],[8.5,8.5],[9,8.5],[3,5.2],[4,5.8],[5,6.5],[6.5,8.2],[7.5,8.3],[8,8.3],[1,3.5],[0.6,2.7],
  [9.5,8.5],[10,10],[10.5,9.5],[11,11],[11.5,10.5],[12,11],[12.5,11],[13,11.3],[14,11.5],[14.5,11.5],[15,11.5],[10,9]];

const gpE = [[0.2,0.5],[0.5,0.1],[0.9,1.3],[1.3,0.9],[1.7,2],[2.1,1.7],[2.5,2.8],[2.9,2.5],[3.3,3.6],[3.7,3.3],[4.1,4.5],[4.5,4.1],[4.9,5.3],[5.3,4.9],[5.7,6.1],[6.1,5.7],[6.5,6.9],[6.9,6.5],[7,10],[7.3,7.7],[7.7,7.3],[8.1,8.5],[8.5,8.1],[8.9,9.3],[9.3,8.9],[9.7,10.1],[10.1,9.7],[10.5,10.9],[10.9,10.5],[11.3,11.7],[11.7,11.3],[12.1,12.5],[12.5,12.1],[12.9,13.3],[13.3,12.9],[13.7,14.1],[14.1,13.7],[14.5,14.9],[14.9,14.5],[15.3,15.7],[15,12.8],[15.7,15.3],[16.1,16.5],[16.5,16.1],[16.9,17.3],[17.3,16.9],[17,15],[17.7,18.1],[18.1,17.7],[18.5,18.9],[18.9,18.5],[19.3,19.7],[19.7,19.3],[20.1,20.6],[20.5,20.1],[20.9,21.3],[21.3,20.9],[21.7,22.1],[22.1,21.7],[12,13.2],[19.5,20.5],
  [0.4,0.8],[0.8,0.5],[1.2,1.5],[1.6,1.3],[2,2.3],[2.4,2.1],[2.8,3.1],[3.2,2.9],[3.6,3.9],[4,3.7],[4.4,4.7],[4.8,4.5],[5.2,5.5],[5.6,5.3],[6,6.3],[6.4,6.1],[6.8,7.1],[7.2,6.9],[7.6,7.9],[8,7.7],[8.4,8.7],[8.8,8.5],[9.2,9.5],[9.6,9.3],[10,10.3],[10.4,10.1],[10.8,11.1],[11.2,10.9],[11.6,11.9],[12,11.7],[12.4,12.7],[12.8,12.5],[13.2,13.5],[13.6,13.3],[14,14.3],[14.4,14.1],[14.8,15.1],[15.2,14.9],[15.6,15.9],[16,15.7],[16.4,16.7],[16.8,16.5],[17.2,17.5],[17.6,17.3],[18,18.3],[18.4,18.1],[18.8,19.1],[19.2,18.9],[19.6,19.9],[20,19.7],[20.4,20.7],[20.8,20.5],[21.2,21.5],[21.6,21.3],[22,22.3],
  [23.5,24],[25,25],[27,27],[28.5,28.5],[29.5,29.5],[30,31.5],[31,31.5],[31.5,31],[33.5,32.3],[34,33],[36.5,37],[37.3,37],[37.8,37.3]];
const gpV = [[0.069,0.063],[0.081,0.086],[0.11,0.041],[0.097,0.153],[0.119,0.196],[0.148,0.228],[0.16,0.175],[0.18,0.118],[0.19,0.18],[0.2,0.303],[0.2,0.22],[0.21,0.21],[0.289,0.388],[0.309,0.358],[0.351,0.163],[0.358,0.218],[0.35,0.3],[0.379,0.291],[0.34,0.33],
  [0.22,0.25],[0.22,0.23],[0.23,0.26],[0.23,0.22],[0.24,0.25],[0.24,0.27],[0.25,0.23],[0.25,0.26],[0.25,0.28],[0.26,0.24],[0.26,0.27],[0.26,0.3],[0.27,0.25],[0.27,0.28],[0.27,0.22],[0.28,0.26],[0.28,0.29],[0.28,0.31],[0.29,0.27],[0.29,0.3],[0.29,0.24],[0.3,0.28],[0.3,0.31],[0.3,0.26],[0.31,0.3],[0.31,0.32],[0.31,0.28],[0.32,0.31],[0.32,0.33],[0.33,0.32],[0.33,0.34],[0.34,0.34],[0.35,0.35],[0.35,0.33],[0.36,0.36],[0.37,0.37],[0.37,0.35],[0.38,0.38],[0.39,0.39],[0.4,0.4],[0.41,0.41],[0.42,0.42],[0.42,0.45],[0.43,0.43],[0.44,0.44],[0.44,0.42],[0.45,0.45],[0.46,0.46],[0.46,0.44],[0.47,0.47],[0.48,0.48],[0.48,0.46],[0.49,0.49],[0.5,0.5],[0.25,0.21],[0.3,0.25],[0.34,0.29],
  [0.23,0.24],[0.24,0.26],[0.25,0.25],[0.25,0.27],[0.26,0.25],[0.26,0.28],[0.27,0.27],[0.27,0.26],[0.28,0.28],[0.28,0.27],[0.29,0.29],[0.29,0.28],[0.3,0.3],[0.3,0.29],[0.31,0.31],[0.32,0.32],[0.33,0.33],[0.26,0.22],[0.28,0.23],[0.32,0.27],[0.24,0.23]];
const gpK = [[0.3,0.8],[0.7,0.3],[1,1.5],[1.4,1],[1.8,2.2],[2,4],[2.2,1.8],[2.6,3],[3,2.5],[3.4,3.8],[3.8,3.2],[4.2,4.8],[4.6,4],[5,5.6],[5.4,4.8],[5.8,6.4],[6.2,5.6],[6.6,7.2],[7,6.5],[7,10],[7.4,8],[7.8,7.2],[8.2,8.8],[8.6,8],[9,9.6],[9.4,8.8],[9.8,10.4],[10.2,9.5],[10.6,11.2],[11,10.3],[11.4,12],[11.8,11],[12,8.5],[12.2,12.8],[12.6,11.8],[13,13.6],[13.4,12.5],[13.8,14.4],[14.2,13.2],[14.6,15.2],[15,14],[15,20],[15.5,16],[16,15],[16.5,17],[17,16],[17.5,17.5],[18,17],[18.5,18.5],[19,18],[19.5,19.5],[20,19],[21,20.5],[22,21],[22,18],[23,22],[25,24.3],[25,28.7],[26,17.3],[26,11.8],[25,8.9],[28,31.3],[29.6,29.4],[31.5,31.5],[32,31.8],
  [0.5,0.5],[1.5,1.6],[2.5,2.4],[3.5,3.6],[4.5,4.4],[5.5,5.6],[6.5,6.4],[7.5,7.6],[8.5,8.4],[9.5,9.6],[10.5,10.4],[11.5,11.6],[12.5,12.4],[13.5,13.6],[14.5,14.4],[16.5,16.3]];
const gpG = [[0.1,0.2],[0.4,0.4],[0.7,0.6],[1,1.1],[1.3,1.2],[1.6,1.7],[1.9,1.8],[2.2,2.3],[2.5,2.4],[2.8,2.9],[3.1,3],[3.4,3.5],[3.7,3.6],[4,4.1],[4.3,4.2],[4.6,4.7],[4.9,4.8],[5.2,5.3],[5.5,5.4],[5.8,5.9],[6.1,6],[6.4,6.5],[6.7,6.6],[7,7.1],[7.3,7.2],[7.6,7.7],[7.9,7.8],[8.2,8.3],[8.5,8.4],[8.8,8.9],[9.1,9.2],
  [0.25,0.45],[0.55,0.35],[0.85,1.05],[1.15,0.95],[1.45,1.65],[1.75,1.55],[2.05,2.25],[2.35,2.15],[2.65,2.85],[2.95,2.75],[3.25,3.45],[3.55,3.35],[3.85,4.05],[4.15,3.95],[4.45,4.65],[4.75,4.55],[5.05,5.25],[5.35,5.15],[5.65,5.85],[5.95,5.75],[6.25,6.45],[6.55,6.35],[6.85,7.05],[7.15,6.95],[7.45,7.65],[7.75,7.55],[8.05,8.25],[8.35,8.15],[8.65,8.85],[8.95,8.75],
  [9.7,10],[10.2,10.3],[11,11],[11.5,11.5],[12.3,12.3],[12.8,12.5],[13.2,12.5],[13.8,14.3],[14.5,14.4]];

// rows = models, columns = property
const models = ['LR', 'DT', 'GBT', 'NN', 'ANN', 'RF', 'GP'];
const grid = [
  [lrE, lrV, lrK, lrG],
  [dtE, dtV, dtK, dtG],
  [gbtE, gbtV, gbtK, gbtG],
  [nnE, nnV, nnK, nnG],
  [annE, annV, annK, annG],
  [rfE, rfV, rfK, rfG],
  [gpE, gpV, gpK, gpG]
];
const axisMax = [40, 0.5, 40, 20];
const axisStep = [10, 0.1, 10, 5];
const xTitles = ['Experimental E [GPa]', 'Experimental \u03bd [\u2212]', 'Experimental K [GPa]', 'Experimental G [GPa]'];
const yTitles = ['Estimated E [GPa]', 'Estimated \u03bd [\u2212]', 'Estimated K [GPa]', 'Estimated G [GPa]'];

// ---------------------
// LAYOUT
// ---------------------
const plotLeft = [59, 286, 506, 729];
const plotTop = [13, 196, 377, 559, 741, 923, 1105];
const PW = 168, PH = 168;
const axisW = [47, 54, 46, 48];
const labelDx = [13, 8, 10, 11];
const PAD_T = 12, PAD_R = 14;
const FONT = '"Liberation Serif", "Times New Roman", serif';

// frame with inward ticks on all four sides + model name
const framePlugin = {
  id: 'frame',
  afterDatasetsDraw(chart, args, opts) {
    const { ctx, chartArea: a, scales: { x, y } } = chart;
    ctx.save();
    ctx.strokeStyle = '#222';
    ctx.lineWidth = 1;
    ctx.strokeRect(a.left + 0.5, a.top + 0.5, a.right - a.left - 1, a.bottom - a.top - 1);
    ctx.lineWidth = 0.8;
    const minor = opts.step / 5;
    const n = Math.round(opts.max / minor);
    ctx.beginPath();
    for (let i = 1; i < n; i++) {
      const len = i % 5 === 0 ? 5 : 3;
      const px = Math.round(x.getPixelForValue(i * minor)) + 0.5;
      ctx.moveTo(px, a.bottom); ctx.lineTo(px, a.bottom - len);
      ctx.moveTo(px, a.top); ctx.lineTo(px, a.top + len);
      const py = Math.round(y.getPixelForValue(i * minor)) + 0.5;
      ctx.moveTo(a.left, py); ctx.lineTo(a.left + len, py);
      ctx.moveTo(a.right, py); ctx.lineTo(a.right - len, py);
    }
    ctx.stroke();
    ctx.fillStyle = '#000';
    ctx.font = 'bold 26px ' + FONT;
    ctx.textBaseline = 'alphabetic';
    ctx.fillText(opts.label, a.left + opts.dx, a.top + 28);
    ctx.restore();
  }
};

models.forEach((model, r) => {
  grid[r].forEach((pts, c) => {
    const bottom = r === models.length - 1;
    const xH = bottom ? 1325 - (plotTop[r] + PH) : 2;
    const W = axisW[c] + PW + PAD_R;
    const H = PAD_T + PH + xH;
    const div = document.createElement('div');
    div.className = 'panel';
    div.style.left = (plotLeft[c] - axisW[c]) + 'px';
    div.style.top = (plotTop[r] - PAD_T) + 'px';
    div.style.width = W + 'px';
    div.style.height = H + 'px';
    const canvas = document.createElement('canvas');
    canvas.width = W; canvas.height = H;
    div.appendChild(canvas);
    document.body.appendChild(div);

    const max = axisMax[c];
    const fmt = v => (c === 1 ? Number(v).toFixed(1) : String(Math.round(v)));

    const chart = new Chart(canvas, {
      type: 'scatter',
      data: {
        datasets: [
          {
            data: [[0, 0], [max, max]],
            showLine: true,
            borderColor: '#e8141c',
            borderWidth: 1.6,
            pointRadius: 0,
            order: 0
          },
          {
            data: pts,
            pointStyle: 'circle',
            pointRadius: 3.8,
            pointBackgroundColor: 'rgba(0,0,0,0)',
            pointBorderColor: 'rgba(25,25,255,0.8)',
            pointBorderWidth: 0.95,
            order: 1
          }
        ]
      },
      options: {
        responsive: false,
        animation: false,
        events: [],
        layout: { padding: { top: PAD_T, right: PAD_R, left: 0, bottom: 0 } },
        plugins: {
          legend: { display: false },
          tooltip: { enabled: false },
          frame: { label: model, dx: labelDx[c], max: max, step: axisStep[c] }
        },
        scales: {
          x: {
            type: 'linear', min: 0, max: max,
            grid: { display: false, drawTicks: false },
            border: { display: false },
            ticks: {
              display: bottom, stepSize: axisStep[c], padding: 6, maxRotation: 0, autoSkip: false,
              color: '#000', font: { family: FONT, size: 17, weight: 'bold' }, callback: fmt
            },
            title: {
              display: bottom, text: xTitles[c], color: '#000',
              font: { family: FONT, size: 18, weight: 'bold' }, padding: { top: 0, bottom: 2 }
            },
            afterFit(s) { s.height = xH; }
          },
          y: {
            type: 'linear', min: 0, max: max,
            grid: { display: false, drawTicks: false },
            border: { display: false },
            ticks: {
              stepSize: axisStep[c], padding: 5, autoSkip: false,
              color: '#000', font: { family: FONT, size: 17, weight: 'bold' }, callback: fmt
            },
            title: {
              display: true, text: yTitles[c], color: '#000',
              font: { family: FONT, size: 18, weight: 'bold' }, padding: { top: 0, bottom: 0 }
            },
            afterFit(s) { s.width = axisW[c]; }
          }
        }
      },
      plugins: [framePlugin]
    });

    // align plot area exactly with the reference frame
    const a = chart.chartArea;
    div.style.left = (plotLeft[c] - a.left) + 'px';
    div.style.top = (plotTop[r] - a.top) + 'px';
  });
});
</script>
</body>
</html>
